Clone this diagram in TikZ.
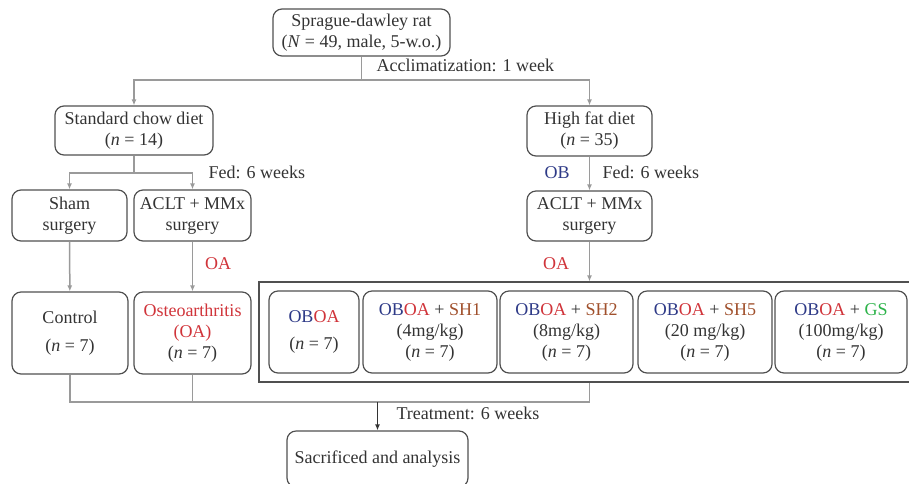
\documentclass[tikz,border=0pt]{standalone}
\usepackage{fontspec}
\setmainfont{Liberation Serif}
\usepackage{xcolor}
\usepackage{tikz}
\usetikzlibrary{arrows, arrows.meta}
\definecolor{obblue}{HTML}{2E3A87}
\definecolor{oared}{HTML}{D0343A}
\definecolor{shbrown}{HTML}{A0502C}
\definecolor{gsgreen}{HTML}{2DB34A}
\definecolor{txtgray}{HTML}{333333}
\definecolor{boxgray}{HTML}{505050}
\definecolor{linegray}{HTML}{9A9A9A}
\newcommand{\nn}[1]{(\textit{n} = #1)}
\newcommand{\OBOA}{\textcolor{obblue}{OB}\textcolor{oared}{OA}}

\begin{document}
\begin{tikzpicture}[x=1pt,y=-1pt,
  every node/.style={text=txtgray,font=\fontsize{18}{21}\selectfont},
  box/.style={draw=boxgray,line width=1.2pt,rounded corners=9pt,align=center,inner sep=0pt},
  grpbox/.style={draw=boxgray,line width=1.2pt,inner sep=0pt},
  conn/.style={linegray,line width=1.5pt},
  tip/.style={-{Latex[length=6pt,width=5pt]}}]
\clip (0,0) rectangle (909,483);
\node[box,minimum width=177pt,minimum height=47pt] (rat) at (361.5,32.5) {Sprague-dawley rat\\(\textit{N} = 49, male, 5-w.o.)};
\node[box,minimum width=158pt,minimum height=49pt] (chow) at (134,130.5) {Standard chow diet\\\nn{14}};
\node[box,minimum width=125pt,minimum height=50pt] (fat) at (589.5,131) {High fat diet\\\nn{35}};
\node[box,minimum width=115pt,minimum height=51pt] (sham) at (69.5,215.5) {Sham\\surgery};
\node[box,minimum width=117pt,minimum height=51pt] (acltL) at (192.5,215.5) {ACLT + MMx\\surgery};
\node[box,minimum width=125pt,minimum height=50pt] (acltR) at (589.5,216) {ACLT + MMx\\surgery};
\node[box,minimum width=116pt,minimum height=82pt] (ctrl) at (70,333) {Control\\[7pt]\nn{7}};
\node[box,minimum width=117pt,minimum height=82pt] (oa) at (192.5,333) {\textcolor{oared}{Osteoarthritis}\\\textcolor{oared}{(OA)}\\\nn{7}};
\node[grpbox,minimum width=660pt,minimum height=100pt] (grp) at (589,332) {};
\node[box,minimum width=90pt,minimum height=82pt] (oboa) at (314,332) {\OBOA\\[6pt]\nn{7}};
\node[box,minimum width=134pt,minimum height=82pt] (shA) at (430,332) {\OBOA{} + \textcolor{shbrown}{SH1}\\(4mg/kg)\\\nn{7}};
\node[box,minimum width=133pt,minimum height=82pt] (shB) at (566.5,332) {\OBOA{} + \textcolor{shbrown}{SH2}\\(8mg/kg)\\\nn{7}};
\node[box,minimum width=134pt,minimum height=82pt] (shC) at (705,332) {\OBOA{} + \textcolor{shbrown}{SH5}\\(20 mg/kg)\\\nn{7}};
\node[box,minimum width=132pt,minimum height=82pt] (gs) at (841,332) {\OBOA{} + \textcolor{gsgreen}{GS}\\(100mg/kg)\\\nn{7}};
\node[box,minimum width=181pt,minimum height=56pt] (sac) at (377.5,459) {Sacrificed and analysis};
\coordinate (accl) at (rat.south |- 0,80);
\coordinate (fedL) at (chow.south |- 0,173);
\coordinate (treat) at (sac.north |- 0,402);
\draw[conn] (rat) -- (accl);
\draw[conn,tip] (accl) -| (chow);
\draw[conn,tip] (accl) -| (fat);
\draw[conn] (chow) -- (fedL);
\draw[conn,tip] (fedL) -| (sham);
\draw[conn,tip] (fedL) -| (acltL);
\draw[conn,tip] (fat) -- (acltR);
\draw[conn,tip] (sham) -- (ctrl);
\draw[conn,tip] (acltL) -- (oa);
\draw[conn,tip] (acltR) -- (acltR |- grp.north);
\draw[conn] (ctrl) |- (acltR |- treat) -- (acltR |- grp.south);
\draw[conn] (oa) -- (oa |- treat);
\draw[txtgray,line width=1.5pt,tip] (treat) -- (sac);
\node[anchor=west] (lblAccl) at (373,65) {Acclimatization: 1 week};
\node[anchor=west] (lblFedL) at (205,172) {Fed: 6 weeks};
\node[anchor=west] (lblFedR) at (599,172) {Fed: 6 weeks};
\node[text=obblue] (lblOB) at (557,173) {OB};
\node[text=oared] (lblOAL) at (218,264) {OA};
\node[text=oared] (lblOAR) at (556,264) {OA};
\node[anchor=west] (lblTreat) at (393,413) {Treatment: 6 weeks};
\end{tikzpicture}
\end{document}
